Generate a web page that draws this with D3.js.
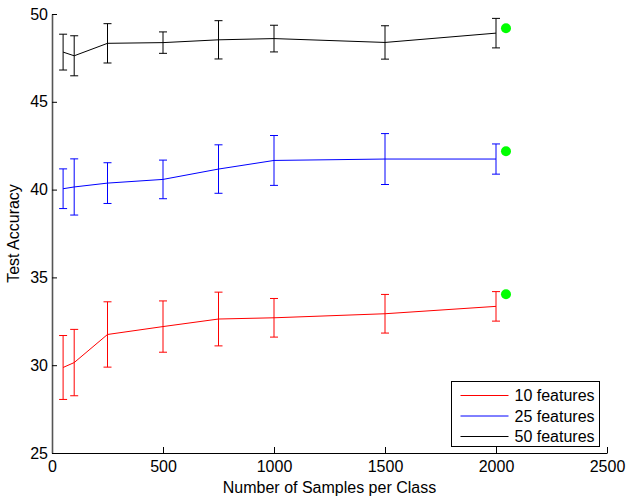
<!DOCTYPE html>
<html>
<head>
<meta charset="utf-8">
<script src="https://cdn.jsdelivr.net/npm/d3@7"></script>
<style>
  body { margin: 0; background: #fff; }
  svg { font-family: "Liberation Sans", Arial, sans-serif; }
</style>
</head>
<body>
<svg id="chart"></svg>
<script>
const samples = [50, 100, 250, 500, 750, 1000, 1500, 2000];

const mean10 = [29.87, 30.15, 31.75, 32.2, 32.63, 32.7, 32.93, 33.35];
const err10 = [1.82, 1.89, 1.86, 1.46, 1.53, 1.1, 1.1, 0.84];

const mean25 = [40.05, 40.15, 40.37, 40.58, 41.17, 41.66, 41.74, 41.74];
const err25 = [1.13, 1.6, 1.16, 1.1, 1.38, 1.42, 1.45, 0.86];

const mean50 = [47.83, 47.62, 48.33, 48.37, 48.53, 48.6, 48.38, 48.91];
const err50 = [1.02, 1.14, 1.12, 0.61, 1.09, 0.76, 0.95, 0.84];

// single reference points drawn to the right of the last sample
const refX = 2045;
const refY = [34.04, 42.18, 49.19];

const xTicks = [0, 500, 1000, 1500, 2000, 2500];
const yTicks = [25, 30, 35, 40, 45, 50];

const series = [
  { name: "10 features", color: "#ff0000", mean: mean10, err: err10 },
  { name: "25 features", color: "#0000ff", mean: mean25, err: err25 },
  { name: "50 features", color: "#000000", mean: mean50, err: err50 }
];

const W = 629, H = 496;
const margin = { top: 14, right: 22, bottom: 43, left: 52 };
const width = W - margin.left - margin.right;
const height = H - margin.top - margin.bottom;

const svg = d3.select("#chart").attr("width", W).attr("height", H);
const g = svg.append("g").attr("transform", `translate(${margin.left},${margin.top})`);

const x = d3.scaleLinear().domain([0, 2500]).range([0, width]);
const y = d3.scaleLinear().domain([25, 50]).range([height, 0]);

// axes, ticks pointing inward like matlab
const xAxis = g.append("g")
  .attr("transform", `translate(0,${height})`)
  .call(d3.axisBottom(x).tickValues(xTicks).tickFormat(d3.format("d"))
    .tickSize(-6).tickSizeOuter(0).tickPadding(8));
const yAxis = g.append("g")
  .call(d3.axisLeft(y).tickValues(yTicks).tickFormat(d3.format("d"))
    .tickSize(-5).tickSizeOuter(0).tickPadding(4));

[xAxis, yAxis].forEach(a => {
  a.selectAll("text").style("font-size", "16px").attr("fill", "#000");
  a.selectAll("line").attr("stroke", "#000");
  a.select(".domain").attr("stroke", "#000");
});
yAxis.select(".domain").attr("stroke", "#555").attr("stroke-width", 1.6);

const line = d3.line().x(d => x(d[0])).y(d => y(d[1]));
const cap = 4;

series.forEach(s => {
  const pts = samples.map((v, i) => [v, s.mean[i], s.err[i]]);
  g.append("path").datum(pts)
    .attr("fill", "none").attr("stroke", s.color).attr("stroke-width", 1)
    .attr("d", line);
  const eb = g.append("g").attr("stroke", s.color).attr("stroke-width", 1);
  pts.forEach(p => {
    const cx = x(p[0]), y0 = y(p[1] - p[2]), y1 = y(p[1] + p[2]);
    eb.append("line").attr("x1", cx).attr("x2", cx).attr("y1", y0).attr("y2", y1);
    eb.append("line").attr("x1", cx - cap).attr("x2", cx + cap).attr("y1", y0).attr("y2", y0);
    eb.append("line").attr("x1", cx - cap).attr("x2", cx + cap).attr("y1", y1).attr("y2", y1);
  });
});

g.selectAll("circle.ref").data(refY).enter().append("circle")
  .attr("class", "ref")
  .attr("cx", x(refX)).attr("cy", d => y(d)).attr("r", 5)
  .attr("fill", "#00ff00");

// axis titles
svg.append("text")
  .attr("x", margin.left + width / 2).attr("y", 493)
  .attr("text-anchor", "middle").style("font-size", "16px")
  .text("Number of Samples per Class");
svg.append("text")
  .attr("transform", `translate(19,${margin.top + height / 2}) rotate(-90)`)
  .attr("text-anchor", "middle").style("font-size", "16px")
  .text("Test Accuracy");

// legend
const lg = svg.append("g").attr("transform", "translate(451.5,381.5)");
lg.append("rect").attr("width", 148).attr("height", 65)
  .attr("fill", "#fff").attr("stroke", "#000").attr("stroke-width", 1);
series.forEach((s, i) => {
  const ly = 14 + i * 20.5;
  lg.append("line").attr("x1", 9).attr("x2", 57).attr("y1", ly).attr("y2", ly)
    .attr("stroke", s.color).attr("stroke-width", 1);
  lg.append("text").attr("x", 63).attr("y", ly).attr("dy", "0.35em")
    .style("font-size", "16px").text(s.name);
});
</script>
</body>
</html>
